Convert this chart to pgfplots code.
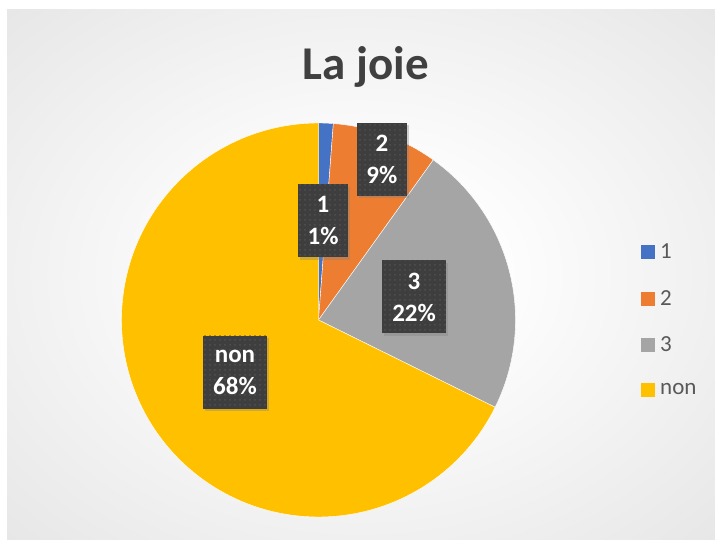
\documentclass[border=0pt]{standalone}
\usepackage{pgfplots}
\pgfplotsset{compat=1.18}
\usepackage{pgfplotstable}
\usepackage{fontspec}
\setmainfont{Carlito}
\usetikzlibrary{patterns.meta,shadows}
\definecolor{cblue}{HTML}{4472C4}
\definecolor{corange}{HTML}{ED7D31}
\definecolor{cgray}{HTML}{A5A5A5}
\definecolor{cgold}{HTML}{FFC000}
\definecolor{ctitle}{HTML}{404040}
\definecolor{clegend}{HTML}{595959}
\definecolor{cbox}{HTML}{3E3E3E}
\definecolor{cdot}{HTML}{505050}
\definecolor{cmid}{HTML}{DADADA}
\definecolor{ccorner}{HTML}{C4C4C4}

\pgfdeclareradialshading{bgshade}{\pgfpoint{0bp}{0bp}}{%
  color(0bp)=(white); color(8bp)=(white); color(50bp)=(cmid); color(71bp)=(ccorner)}

\tikzset{
  lbl/.style={fill=cbox, text=white, align=center,
    font=\fontsize{25}{32}\selectfont\bfseries,
    minimum height=73pt, inner sep=0pt,
    postaction={pattern={Dots[distance=5pt, radius=1pt]}, pattern color=cdot},
    drop shadow={shadow xshift=2pt, shadow yshift=-2.5pt, opacity=0.35}},
  slice/.style={draw=white, line width=0.4pt},
}

\pgfplotstableread{
label value
1 1.2
2 8.7
3 22.4
non 67.7
}\piedata

\begin{document}
\begin{tikzpicture}[x=1pt,y=1pt]
\pgfplotstablegetelem{0}{value}\of\piedata \let\va\pgfplotsretval
\pgfplotstablegetelem{1}{value}\of\piedata \let\vb\pgfplotsretval
\pgfplotstablegetelem{2}{value}\of\piedata \let\vc\pgfplotsretval
\pgfplotstablegetelem{3}{value}\of\piedata \let\vd\pgfplotsretval
\pgfmathsetmacro\tot{\va+\vb+\vc+\vd}
\pgfmathsetmacro\aA{90}
\pgfmathsetmacro\aB{\aA-360*(\va/\tot)}
\pgfmathsetmacro\aC{\aB-360*(\vb/\tot)}
\pgfmathsetmacro\aD{\aC-360*(\vc/\tot)}
\pgfmathsetmacro\aE{\aD-360*(\vd/\tot)}
% page and background
\fill[white] (0,0) rectangle (715,540);
\shade[shading=bgshade] (7,0) rectangle (715,530);
% title
\node[anchor=base, font=\fontsize{47}{50}\selectfont\bfseries, text=ctitle] at (366,460) {La joie};
\begin{axis}[
  at={(318.5pt,220pt)}, anchor=center,
  width=394pt, height=394pt, scale only axis,
  xmin=-1, xmax=1, ymin=-1, ymax=1,
  hide axis, clip=false,
  legend style={at={(1.3185,0.5)}, anchor=west, draw=none, fill=none,
    font=\fontsize{23}{27}\selectfont, text=clegend, row sep=26pt, column sep=3pt,
    inner sep=0pt, nodes={inner sep=2pt}},
  legend cell align=left,
  legend image code/.code={\fill[#1, draw=none] (0pt,-7pt) rectangle (14pt,7pt);},
]
\addplot[slice, fill=cblue, domain=\aB:\aA, samples=20] ({cos(x)},{sin(x)}) -- (axis cs:0,0) -- cycle;
\addlegendentry{1}
\addplot[slice, fill=corange, domain=\aC:\aB, samples=40] ({cos(x)},{sin(x)}) -- (axis cs:0,0) -- cycle;
\addlegendentry{2}
\addplot[slice, fill=cgray, domain=\aD:\aC, samples=80] ({cos(x)},{sin(x)}) -- (axis cs:0,0) -- cycle;
\addlegendentry{3}
\addplot[slice, fill=cgold, domain=\aE:\aD, samples=200] ({cos(x)},{sin(x)}) -- (axis cs:0,0) -- cycle;
\addlegendentry{non}
\node[lbl, minimum width=50pt] at (axis cs:0.023,0.503) {1\\1\%};
\node[lbl, minimum width=50pt] at (axis cs:0.322,0.817) {2\\9\%};
\node[lbl, minimum width=64pt] at (axis cs:0.485,0.117) {3\\22\%};
\node[lbl, minimum width=64pt] at (axis cs:-0.424,-0.264) {non\\68\%};
\end{axis}
\end{tikzpicture}
\end{document}
